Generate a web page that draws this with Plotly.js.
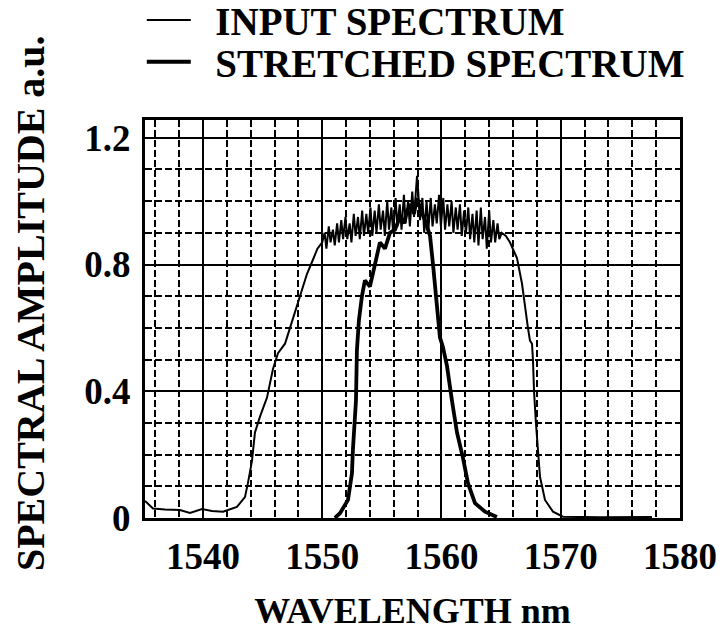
<!DOCTYPE html>
<html>
<head>
<meta charset="utf-8">
<script src="https://cdn.plot.ly/plotly-3.0.1.min.js"></script>
<style>html,body{margin:0;padding:0;background:#fff;}#chart{width:724px;height:641px;}</style>
</head>
<body>
<div id="chart"></div>
<script>
// ---- data ----
const inputName = 'INPUT SPECTRUM';
const stretchedName = 'STRETCHED SPECTRUM';

const inputWavelength = [
  1535.14, 1535.81, 1536.81, 1538.07, 1538.91, 1539.92, 1540.75, 1541.68,
  1542.85, 1543.52, 1543.77, 1544.11, 1544.36, 1544.78, 1545.37, 1545.87,
  1546.29, 1546.88, 1547.30, 1547.88, 1548.13, 1548.72, 1549.22, 1549.6,
  1550.0, 1550.2, 1550.35, 1550.55, 1550.7, 1550.9, 1551.05, 1551.25,
  1551.4, 1551.6, 1551.75, 1551.95, 1552.1, 1552.3, 1552.45, 1552.65,
  1552.8, 1553.0, 1553.15, 1553.35, 1553.5, 1553.7, 1553.85, 1554.05,
  1554.2, 1554.4, 1554.55, 1554.75, 1554.9, 1555.1, 1555.25, 1555.45,
  1555.6, 1555.8, 1555.95, 1556.15, 1556.3, 1556.5, 1556.65, 1556.85,
  1557.0, 1557.2, 1557.35, 1557.55, 1557.7, 1557.85, 1557.95, 1558.05,
  1558.2, 1558.4, 1558.55, 1558.75, 1558.9, 1559.1, 1559.25, 1559.45,
  1559.6, 1559.8, 1559.95, 1560.15, 1560.3, 1560.5, 1560.65, 1560.85,
  1561.0, 1561.2, 1561.35, 1561.55, 1561.7, 1561.9, 1562.05, 1562.25,
  1562.4, 1562.6, 1562.75, 1562.95, 1563.1, 1563.3, 1563.45, 1563.65,
  1563.8, 1564.0, 1564.15, 1564.35, 1564.5, 1564.7, 1564.85, 1565.05,
  1565.4, 1565.74, 1566.33, 1566.75, 1567.00, 1567.25, 1567.42, 1567.59,
  1567.67, 1567.76, 1567.92, 1568.01, 1568.26, 1568.68, 1569.35, 1570.19,
  1573.29, 1577.65
];
const inputAmplitude = [
  0.054, 0.030, 0.027, 0.025, 0.016, 0.028, 0.022, 0.020,
  0.035, 0.066, 0.11, 0.18, 0.27, 0.32, 0.38, 0.47,
  0.52, 0.55, 0.60, 0.67, 0.70, 0.77, 0.815, 0.85,
  0.87, 0.90, 0.85, 0.92, 0.87, 0.91, 0.86, 0.93,
  0.87, 0.94, 0.88, 0.95, 0.88, 0.93, 0.87, 0.96,
  0.89, 0.95, 0.88, 0.97, 0.89, 0.96, 0.90, 0.98,
  0.89, 0.97, 0.90, 0.99, 0.91, 0.97, 0.89, 1.00,
  0.91, 0.98, 0.90, 1.01, 0.92, 0.99, 0.91, 1.02,
  0.93, 1.00, 0.92, 1.03, 0.95, 1.05, 1.08, 1.03,
  0.94, 1.01, 0.90, 1.00, 0.91, 1.01, 0.92, 0.99,
  0.93, 1.02, 0.92, 1.01, 0.91, 0.99, 0.92, 1.00,
  0.90, 0.98, 0.91, 0.99, 0.89, 0.97, 0.90, 0.98,
  0.88, 0.96, 0.87, 0.97, 0.86, 0.98, 0.88, 0.95,
  0.85, 0.97, 0.87, 0.94, 0.87, 0.93, 0.88, 0.90,
  0.89, 0.87, 0.82, 0.74, 0.66, 0.60, 0.56, 0.55,
  0.50, 0.40, 0.30, 0.25, 0.13, 0.057, 0.02, 0.004,
  0.002, 0.003
];

const stretchedWavelength = [
  1551.07, 1551.49, 1552.16, 1552.49, 1552.58, 1552.83, 1552.91, 1553.08,
  1553.33, 1553.58, 1554.00, 1554.26, 1554.59, 1554.84, 1555.26, 1555.68,
  1556.10, 1556.52, 1556.86, 1557.11, 1557.44, 1557.69, 1557.95, 1558.28,
  1558.62, 1559.04, 1559.29, 1559.54, 1559.71, 1559.87, 1560.12, 1560.46,
  1560.88, 1561.30, 1561.80, 1562.22, 1562.81, 1563.65, 1564.65
];
const stretchedAmplitude = [
  0.000, 0.015, 0.057, 0.14, 0.22, 0.37, 0.53, 0.625,
  0.70, 0.75, 0.73, 0.77, 0.82, 0.87, 0.85, 0.90,
  0.91, 0.95, 0.93, 0.97, 0.99, 0.96, 1.01, 0.97,
  0.94, 0.89, 0.80, 0.70, 0.62, 0.57, 0.54, 0.48,
  0.37, 0.27, 0.19, 0.11, 0.047, 0.02, 0.003
];

const xTickValues = [1540, 1550, 1560, 1570, 1580];
const xTickLabels = ['1540', '1550', '1560', '1570', '1580'];
const xMinorValues = [1536, 1538, 1542, 1544, 1546, 1548, 1552, 1554, 1556, 1558,
                      1562, 1564, 1566, 1568, 1572, 1574, 1576, 1578];
const yTickValues = [0, 0.4, 0.8, 1.2];
const yTickLabels = ['0', '0.4', '0.8', '1.2'];
const yMinorValues = [0.1, 0.2, 0.3, 0.5, 0.6, 0.7, 0.9, 1.0, 1.1];
const xAxisRange = [1535.14, 1580];
const yAxisRange = [0, 1.256];

const xTitle = 'WAVELENGTH nm';
const yTitle = 'SPECTRAL AMPLITUDE a.u.';

// ---- chart ----
const serif = 'Liberation Serif, Times New Roman, serif';
const gap = '\u00a0\u00a0';

const traces = [
  {
    x: inputWavelength, y: inputAmplitude, name: gap + inputName,
    type: 'scatter', mode: 'lines', legend: 'legend',
    line: {color: 'black', width: 2}
  },
  {
    x: stretchedWavelength, y: stretchedAmplitude, name: gap + stretchedName,
    type: 'scatter', mode: 'lines', legend: 'legend2',
    line: {color: 'black', width: 3.8}
  }
];

const gridDash = '7px,3px';
const legendFont = {family: serif, size: 39, weight: 'bold', color: 'black'};
const layout = {
  width: 724, height: 641,
  margin: {l: 145, r: 44, t: 120, b: 123, pad: 0, autoexpand: false},
  paper_bgcolor: 'white', plot_bgcolor: 'white',
  font: {family: serif, color: 'black', size: 37, weight: 'bold'},
  showlegend: true,
  xaxis: {
    range: xAxisRange, tickmode: 'array', tickvals: xTickValues, ticktext: xTickLabels,
    ticks: '', showgrid: true, gridcolor: 'black', gridwidth: 2, zeroline: false,
    showline: true, linecolor: 'black', linewidth: 3, mirror: true, automargin: false,
    minor: {tickmode: 'array', tickvals: xMinorValues, showgrid: true, gridcolor: 'black',
            gridwidth: 2, griddash: gridDash, ticks: ''},
    tickfont: {family: serif, size: 37, weight: 'bold', color: 'black'},
    ticklabelstandoff: 4,
    title: {text: xTitle, font: {family: serif, size: 36, weight: 'bold', color: 'black'}, standoff: 22}
  },
  yaxis: {
    range: yAxisRange, tickmode: 'array', tickvals: yTickValues, ticktext: yTickLabels,
    ticks: '', showgrid: true, gridcolor: 'black', gridwidth: 2, zeroline: false,
    showline: true, linecolor: 'black', linewidth: 3, mirror: true, automargin: false,
    minor: {tickmode: 'array', tickvals: yMinorValues, showgrid: true, gridcolor: 'black',
            gridwidth: 2, griddash: gridDash, ticks: ''},
    tickfont: {family: serif, size: 37, weight: 'bold', color: 'black'},
    ticklabelstandoff: 4
  },
  legend: {
    x: -0.006, xanchor: 'left', y: 1.251, yanchor: 'middle',
    bgcolor: 'rgba(0,0,0,0)', borderwidth: 0, itemwidth: 44, font: legendFont
  },
  legend2: {
    x: -0.006, xanchor: 'left', y: 1.146, yanchor: 'middle',
    bgcolor: 'rgba(0,0,0,0)', borderwidth: 0, itemwidth: 44, font: legendFont
  },
  annotations: [
    {
      text: yTitle, xref: 'paper', yref: 'paper', x: -0.215, y: 0.54,
      xanchor: 'center', yanchor: 'middle', textangle: -90, showarrow: false,
      font: {family: serif, size: 40, weight: 'bold', color: 'black'}
    }
  ]
};

Plotly.newPlot('chart', traces, layout, {displayModeBar: false, staticPlot: true});
</script>
</body>
</html>
